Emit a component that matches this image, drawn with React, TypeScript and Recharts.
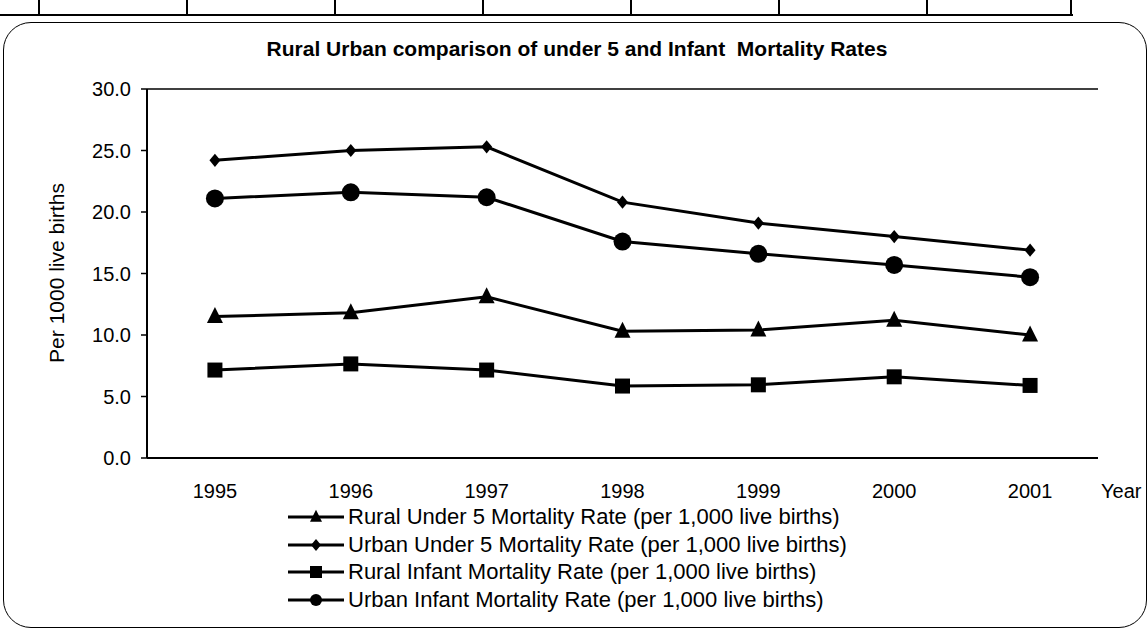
import React from "react";
import { CartesianGrid, Line, LineChart, XAxis, YAxis } from "recharts";

const years = [1995, 1996, 1997, 1998, 1999, 2000, 2001];
const ruralUnder5 = [11.5, 11.8, 13.1, 10.3, 10.4, 11.2, 10.0];
const urbanUnder5 = [24.2, 25.0, 25.3, 20.8, 19.1, 18.0, 16.9];
const ruralInfant = [7.15, 7.65, 7.15, 5.85, 5.95, 6.6, 5.9];
const urbanInfant = [21.1, 21.6, 21.2, 17.6, 16.6, 15.7, 14.7];
const yTicks = [0, 5, 10, 15, 20, 25, 30];
const dividerTicks = [1994.5, 1995.5, 1996.5, 1997.5, 1998.5, 1999.5, 2000.5, 2001.5];

const seriesNames = [
  "Rural Under 5 Mortality Rate (per 1,000 live births)",
  "Urban Under 5 Mortality Rate (per 1,000 live births)",
  "Rural Infant Mortality Rate (per 1,000 live births)",
  "Urban Infant Mortality Rate (per 1,000 live births)",
];

const data = years.map((year, i) => ({
  year,
  ruralUnder5: ruralUnder5[i],
  urbanUnder5: urbanUnder5[i],
  ruralInfant: ruralInfant[i],
  urbanInfant: urbanInfant[i],
}));

const FONT = "'Liberation Sans', Arial, sans-serif";

type Shape = "triangle" | "diamond" | "square" | "circle";

function marker(shape: Shape, cx: number, cy: number, s: number, key?: string) {
  if (shape === "triangle") {
    return (
      <polygon key={key} points={`${cx},${cy - s * 0.6} ${cx - s / 2},${cy + s * 0.4} ${cx + s / 2},${cy + s * 0.4}`} fill="#000" />
    );
  }
  if (shape === "diamond") {
    return (
      <polygon key={key} points={`${cx},${cy - s * 0.6} ${cx + s / 2},${cy} ${cx},${cy + s * 0.6} ${cx - s / 2},${cy}`} fill="#000" />
    );
  }
  if (shape === "square") {
    return <rect key={key} x={cx - s / 2} y={cy - s / 2} width={s} height={s} fill="#000" />;
  }
  return <circle key={key} cx={cx} cy={cy} r={s / 2} fill="#000" />;
}

const dotFor = (shape: Shape, size: number) => (props: any) => {
  const { cx, cy, index } = props;
  return marker(shape, cx, cy, size, `${shape}-${index}`);
};

const series: { key: string; shape: Shape; size: number; legendSize: number }[] = [
  { key: "ruralUnder5", shape: "triangle", size: 16, legendSize: 12 },
  { key: "urbanUnder5", shape: "diamond", size: 11, legendSize: 10 },
  { key: "ruralInfant", shape: "square", size: 15, legendSize: 12 },
  { key: "urbanInfant", shape: "circle", size: 18, legendSize: 12 },
];

export default function App() {
  return (
    <div style={{ position: "absolute", left: 0, top: 0, width: 1148, height: 629, overflow: "hidden", background: "#fff", fontFamily: FONT }}>
      {/* table row fragment at the top */}
      <div style={{ position: "absolute", left: 0, top: 14, width: 1073, height: 2, background: "#000" }} />
      {[38, 186, 334, 482, 630, 778, 926, 1070].map((x) => (
        <div key={x} style={{ position: "absolute", left: x, top: 0, width: 2, height: 15, background: "#000" }} />
      ))}

      {/* rounded frame */}
      <div style={{ position: "absolute", left: 3, top: 22, width: 1144, height: 606, border: "1.5px solid #000", borderRadius: 28, boxSizing: "border-box" }} />

      <div style={{ position: "absolute", left: 0, width: 1154, top: 37, textAlign: "center", fontSize: 21, fontWeight: "bold", whiteSpace: "pre" }}>
        {"Rural Urban comparison of under 5 and Infant  Mortality Rates"}
      </div>

      <div style={{ position: "absolute", left: 57, top: 273, transform: "translate(-50%, -50%) rotate(-90deg)", fontSize: 21, whiteSpace: "nowrap" }}>
        Per 1000 live births
      </div>

      <div style={{ position: "absolute", left: 1101, top: 480, fontSize: 20 }}>Year</div>

      <div style={{ position: "absolute", left: 0, top: 0 }}>
        <LineChart width={1148} height={629} data={data} margin={{ top: 89, right: 50, bottom: 141, left: 87 }}>
          <CartesianGrid horizontal vertical={false} stroke="#000" strokeWidth={1.3} />
          <XAxis
            xAxisId="marks"
            type="number"
            dataKey="year"
            domain={[1994.5, 2001.5]}
            ticks={dividerTicks}
            tickFormatter={() => ""}
            height={0}
            axisLine={false}
            tickLine={{ stroke: "#000", strokeWidth: 1.5 }}
            tickSize={6}
          />
          <XAxis
            xAxisId="years"
            type="number"
            dataKey="year"
            domain={[1994.5, 2001.5]}
            ticks={years}
            height={30}
            axisLine={{ stroke: "#000", strokeWidth: 2 }}
            tickLine={false}
            tickSize={0}
            tickMargin={26}
            tick={{ fill: "#000", fontSize: 20, fontFamily: FONT }}
          />
          <YAxis
            yAxisId="left"
            domain={[0, 30]}
            ticks={yTicks}
            width={60}
            tickFormatter={(v: number) => v.toFixed(1)}
            axisLine={{ stroke: "#000", strokeWidth: 2 }}
            tickLine={{ stroke: "#000", strokeWidth: 1.5 }}
            tickSize={6}
            tickMargin={10}
            tick={{ fill: "#000", fontSize: 20, fontFamily: FONT }}
          />
          <YAxis
            yAxisId="right"
            orientation="right"
            domain={[0, 30]}
            width={0}
            tick={false}
            axisLine={{ stroke: "#000", strokeWidth: 2 }}
          />
          {series.map((s) => (
            <Line
              key={s.key}
              xAxisId="years"
              yAxisId="left"
              type="linear"
              dataKey={s.key}
              stroke="#000"
              strokeWidth={3}
              dot={dotFor(s.shape, s.size)}
              isAnimationActive={false}
            />
          ))}
        </LineChart>
      </div>

      {/* legend */}
      {series.map((s, i) => (
        <div key={s.key} style={{ position: "absolute", left: 286, top: 503 + i * 27.7, height: 28, display: "flex", alignItems: "center" }}>
          <svg width={60} height={28}>
            <line x1={2} y1={14} x2={58} y2={14} stroke="#000" strokeWidth={3} />
            {marker(s.shape, 30, 14, s.legendSize)}
          </svg>
          <span style={{ fontSize: 22, marginLeft: 2, whiteSpace: "nowrap" }}>{seriesNames[i]}</span>
        </div>
      ))}
    </div>
  );
}
